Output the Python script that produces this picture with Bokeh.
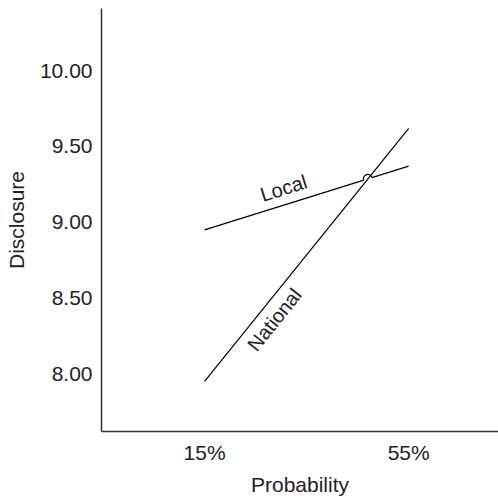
import math
from bokeh.plotting import figure
from bokeh.models import Range1d, FixedTicker, NumeralTickFormatter
from bokeh.core.properties import value
from bokeh.embed import file_html
from bokeh.resources import INLINE

# ---- data ----
probability = [15, 55]          # %
local = [8.95, 9.37]
national = [7.95, 9.62]
x_ticks = [15, 55]
x_tick_labels = ["15%", "55%"]
y_ticks = [8.0, 8.5, 9.0, 9.5, 10.0]
series_names = ["Local", "National"]

FONT = "Liberation Sans"
TXT = "#222222"

W, H = 498, 498
BL, BR, BT, BB = 101, 0, 8, 62
X0, X1 = -5.2, 72.6
Y0, Y1 = 7.62, 10.41

p = figure(width=W, height=H, output_backend="svg", toolbar_location=None,
           x_range=Range1d(X0, X1), y_range=Range1d(Y0, Y1),
           min_border_left=BL, min_border_right=BR, min_border_top=BT, min_border_bottom=BB)
p.outline_line_color = None
p.grid.visible = False
p.background_fill_color = "white"
p.border_fill_color = "white"

for ax in (p.xaxis[0], p.yaxis[0]):
    ax.axis_line_color = "#333333"
    ax.axis_line_width = 1.5
    ax.major_tick_line_color = None
    ax.minor_tick_line_color = None
    ax.major_tick_out = 0
    ax.major_tick_in = 0
    ax.major_label_text_font = FONT
    ax.major_label_text_font_size = "21px"
    ax.major_label_text_color = TXT
    ax.axis_label_text_font = FONT
    ax.axis_label_text_font_size = "21px"
    ax.axis_label_text_font_style = "normal"
    ax.axis_label_text_color = TXT

p.xaxis.ticker = FixedTicker(ticks=x_ticks)
p.xaxis.major_label_overrides = {t: l for t, l in zip(x_ticks, x_tick_labels)}
p.xaxis.major_label_standoff = 9
p.xaxis.axis_label = "Probability"
p.xaxis.axis_label_standoff = 6

p.yaxis.ticker = FixedTicker(ticks=y_ticks)
p.yaxis.formatter = NumeralTickFormatter(format="0.00")
p.yaxis.major_label_standoff = 9
p.yaxis.axis_label = "Disclosure"
p.yaxis.axis_label_standoff = 9

# pixel scales (frame size)
fw = W - BL - BR
fh = H - BT - BB
sx = fw / (X1 - X0)
sy = fh / (Y1 - Y0)

p.line(probability, local, line_color="black", line_width=1.2)

# intersection of the two lines
ml = (local[1] - local[0]) / (probability[1] - probability[0])
mn = (national[1] - national[0]) / (probability[1] - probability[0])
xi = probability[0] + (local[0] - national[0]) / (mn - ml)
yi = local[0] + ml * (xi - probability[0])

theta_l = math.atan2(ml * sy, sx)
theta_n = math.atan2(mn * sy, sx)

# gap + hop on the Local line
p.scatter([xi], [yi], size=9, fill_color="white", line_color=None)
p.line(probability, national, line_color="black", line_width=1.2)
p.arc(x=[xi], y=[yi], radius=4.5, radius_units="screen",
      start_angle=theta_l, end_angle=theta_l + math.pi, direction="anticlock",
      line_color="black", line_width=1.2)

# labels along the lines
lab_x = [30.5, 28.7]
lab_y = [9.225, 8.358]
p.text(x=lab_x, y=lab_y, text=series_names, angle=[theta_l, theta_n],
       text_align="center", text_baseline="middle",
       text_font=value(FONT), text_font_size="20px", text_color=TXT)

open("out.html", "w").write(file_html(p, INLINE))
